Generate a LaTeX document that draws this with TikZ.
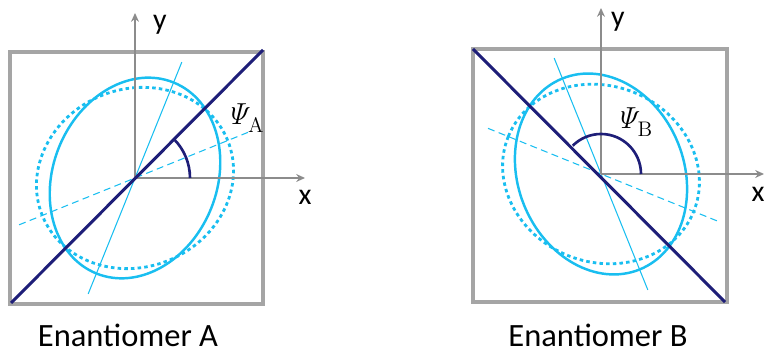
\documentclass[tikz,border=0pt]{standalone}
\usepackage[no-math]{fontspec}
\setmainfont{Carlito}
\usetikzlibrary{arrows.meta}
\definecolor{ellcyan}{RGB}{25,190,240}
\definecolor{navyline}{RGB}{30,30,120}
\definecolor{boxgray}{RGB}{165,165,165}
\definecolor{axisgray}{RGB}{140,140,140}
\begin{document}
\begin{tikzpicture}[x=0.02cm, y=0.02cm,
  boxframe/.style={draw=boxgray, line width=2.3pt},
  axisline/.style={draw=axisgray, line width=0.8pt, -{Stealth[length=5pt, width=4.5pt]}},
  axislabel/.style={anchor=base, font=\fontsize{17}{20}\selectfont},
  diagline/.style={draw=navyline, line width=1.7pt},
  anglearc/.style={draw=navyline, line width=1.5pt},
  ellsolid/.style={draw=ellcyan, line width=1.4pt},
  elldotted/.style={draw=ellcyan, line width=1.6pt, dash pattern=on 2pt off 1.8pt},
  majaxis/.style={draw=ellcyan, line width=0.6pt},
  minaxis/.style={draw=ellcyan, line width=0.6pt, dash pattern=on 4pt off 2.5pt},
  psilabel/.style={font=\fontsize{17}{20}\selectfont},
  caption/.style={anchor=base, font=\fontsize{18.5}{22}\selectfont}]
  \useasboundingbox (0,0) rectangle (764,354);
  % Enantiomer A
  \begin{scope}[shift={(135,176)}]
    \coordinate (oA) at (0,0);
    \draw[boxframe] (-125,-126) rectangle (128,126);
    \draw[elldotted, rotate=22] (oA) ellipse[x radius=100, y radius=89];
    \draw[ellsolid, rotate=68] (oA) ellipse[x radius=103, y radius=82];
    \coordinate (majA1) at (68:125); \coordinate (majA2) at (248:125);
    \coordinate (minA1) at (22:125); \coordinate (minA2) at (202:125);
    \draw[majaxis] (majA2) -- (majA1);
    \draw[minaxis] (minA2) -- (minA1);
    \coordinate (xA) at (170,0); \coordinate (yA) at (0,165);
    \draw[axisline] (oA) -- (xA);
    \draw[axisline] (oA) -- (yA);
    \node[axislabel] (xlabA) at (170,-27) {x};
    \node[axislabel] (ylabA) at (25,148) {y};
    \coordinate (dA1) at (-124,-125); \coordinate (dA2) at (128,128);
    \draw[diagline] (dA1) -- (dA2);
    \draw[anglearc] (55,0) arc[start angle=0, end angle=45, radius=55];
    \node[psilabel] (psiA) at (110,60) {$\mathit{\Psi}_{\lower2pt\hbox{$\scriptstyle\mathrm{A}$}}$};
    \node[caption] (capA) at (-7,-169) {Enantiomer A};
  \end{scope}
  % Enantiomer B
  \begin{scope}[shift={(601,180)}]
    \coordinate (oB) at (0,0);
    \draw[boxframe] (-128,-128) rectangle (126,125);
    \draw[elldotted, rotate=158] (oB) ellipse[x radius=100, y radius=88];
    \draw[ellsolid, rotate=112] (oB) ellipse[x radius=103, y radius=83];
    \coordinate (majB1) at (112:125); \coordinate (majB2) at (292:125);
    \coordinate (minB1) at (158:125); \coordinate (minB2) at (338:125);
    \draw[majaxis] (majB2) -- (majB1);
    \draw[minaxis] (minB2) -- (minB1);
    \coordinate (xB) at (163,0); \coordinate (yB) at (0,166);
    \draw[axisline] (oB) -- (xB);
    \draw[axisline] (oB) -- (yB);
    \node[axislabel] (xlabB) at (157,-28) {x};
    \node[axislabel] (ylabB) at (17,147) {y};
    \coordinate (dB1) at (-128,125); \coordinate (dB2) at (124,-128);
    \draw[diagline] (dB1) -- (dB2);
    \draw[anglearc] (40,0) arc[start angle=0, end angle=135, radius=40];
    \node[psilabel] (psiB) at (33,52) {$\mathit{\Psi}_{\lower2pt\hbox{$\scriptstyle\mathrm{B}$}}$};
    \node[caption] (capB) at (-3,-173) {Enantiomer B};
  \end{scope}
\end{tikzpicture}
\end{document}
